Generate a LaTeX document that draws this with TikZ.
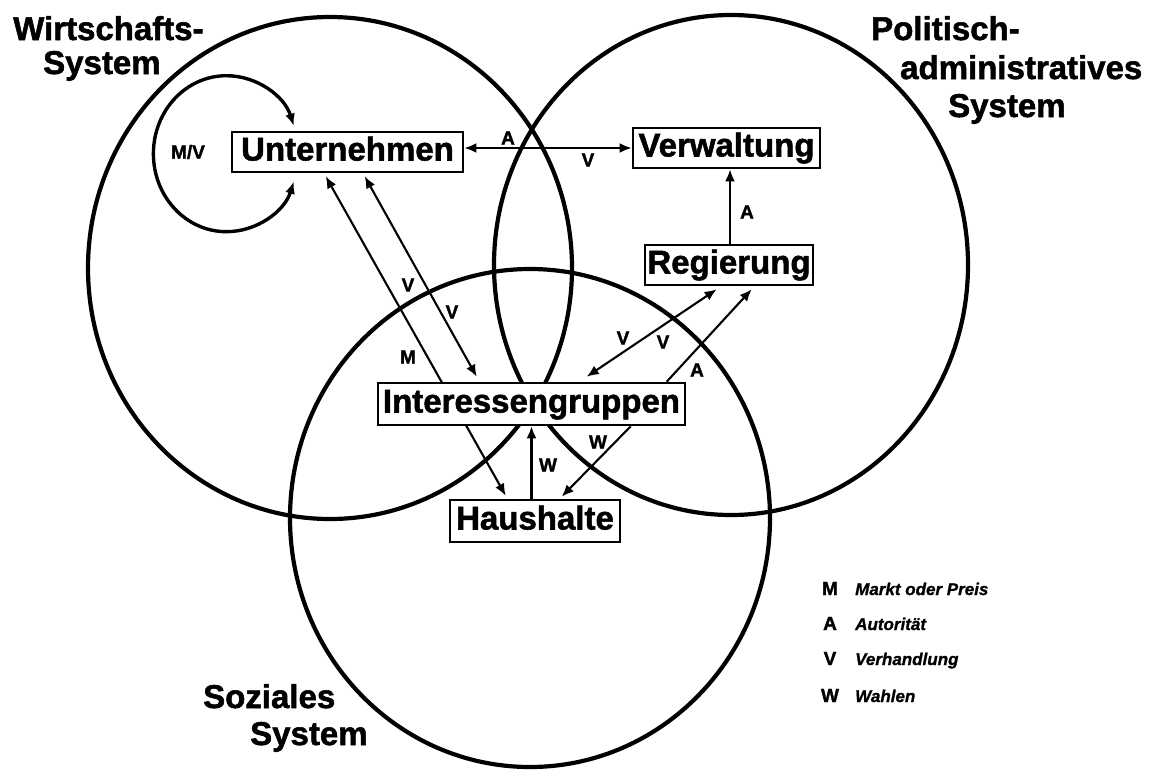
\documentclass[tikz,border=0pt]{standalone}
\usepackage{fontspec}
\setmainfont{Liberation Sans}[BoldFeatures={FakeBold=1.6},BoldItalicFeatures={FakeBold=1}]
\usetikzlibrary{arrows.meta,calc,backgrounds}
\newcommand\bigfnt{\fontsize{33}{36}\selectfont\bfseries}
\newcommand\lblfnt{\fontsize{19}{21}\selectfont\bfseries}
\newcommand\legfnt{\fontsize{17}{19}\selectfont\bfseries\itshape}
\begin{document}
\begin{tikzpicture}[x=1pt,y=-1pt,
  >={Latex[length=12pt,width=10pt]},
  sysbox/.style={draw,line width=2.6pt,fill=white,inner sep=0pt,font=\bigfnt,
                 text height=24pt,text depth=7pt,minimum height=40pt},
  ttl/.style={font=\bigfnt,anchor=base west,inner sep=0pt},
  lbl/.style={font=\lblfnt,inner sep=0pt},
  legtxt/.style={font=\legfnt,anchor=base west,inner sep=0pt},
  sysring/.style={line width=4.2pt},
  flowline/.style={line width=2.1pt},
  mainline/.style={line width=2.5pt},
  loopline/.style={line width=3.4pt}]
\useasboundingbox (0,0) rectangle (1151,769);

% boxes
\node[sysbox,minimum width=231pt] (un) at (347.5,152) {Unternehmen};
\node[sysbox,minimum width=187pt] (vw) at (726.5,148) {Verwaltung};
\node[sysbox,minimum width=168pt] (rg) at (729,265) {Regierung};
\node[sysbox,minimum width=307pt,minimum height=42pt] (ig) at (531.5,404) {Interessengruppen};
\node[sysbox,minimum width=170pt,minimum height=42pt] (hh) at (535,521) {Haushalte};

% titles
\node[ttl] (t1a) at (13,40) {Wirtschafts-};
\node[ttl] (t1b) at (43,74) {System};
\node[ttl] (t2a) at (871,40) {Politisch-};
\node[ttl] (t2b) at (900,79) {administratives};
\node[ttl] (t2c) at (948,117) {System};
\node[ttl] (t3a) at (203,708) {Soziales};
\node[ttl] (t3b) at (250,745) {System};

% arrow labels
\node[lbl] (lmv) at (188,152) {M/V};
\node[lbl] (la1) at (508,138) {A};
\node[lbl] (lv1) at (588,160) {V};
\node[lbl] (la2) at (747,212) {A};
\node[lbl] (lv2) at (408,285) {V};
\node[lbl] (lv3) at (452,312) {V};
\node[lbl] (lm1) at (408,357) {M};
\node[lbl] (lv4) at (623,338) {V};
\node[lbl] (lv5) at (663,342) {V};
\node[lbl] (la3) at (697,370) {A};
\node[lbl] (lw1) at (548,465) {W};
\node[lbl] (lw2) at (598,442) {W};

% legend
\node[lbl,anchor=base] (km) at (830,595) {M};
\node[legtxt] (tm) at (855,595) {Markt oder Preis};
\node[lbl,anchor=base] (ka) at (830,630) {A};
\node[legtxt] (ta) at (855,630) {Autorität};
\node[lbl,anchor=base] (kv) at (830,665) {V};
\node[legtxt] (tv) at (855,665) {Verhandlung};
\node[lbl,anchor=base] (kw) at (830,702) {W};
\node[legtxt] (tw) at (855,702) {Wahlen};

\begin{scope}[on background layer]
  \fill[white] (0,0) rectangle (1151,769);
  % system circles
  \draw[sysring] (330,268) ellipse [x radius=242pt, y radius=251pt];
  \draw[sysring] (731,265) ellipse [x radius=237pt, y radius=250pt];
  \draw[sysring] (530,518) ellipse [x radius=240pt, y radius=249pt];

  % self loop of Unternehmen
  \coordinate (lt) at ($(un.north west)+(63,-5)$);
  \coordinate (lb) at ($(un.south west)+(63,8.4)$);
  \draw[loopline,<->] (lt) .. controls (284.5,96.2) and (257.1,75.7) .. (226.4,75.7)
     .. controls (186.1,75.7) and (153.4,110.6) .. (153.4,153.7)
     .. controls (153.4,196.8) and (186.1,231.7) .. (226.4,231.7)
     .. controls (257.1,231.7) and (284.5,211.2) .. (lb);

  % Unternehmen <-> Verwaltung
  \draw[mainline,<->] (un.east |- vw.west) -- (vw.west);
  % Regierung -> Verwaltung
  \draw[mainline,->] (rg.north -| 730,0) -- (vw.south -| 730,0);

  % Unternehmen <-> Haushalte (M), behind Interessengruppen
  \draw[flowline,<->] ($(un.south west)+(95,3)$) -- ($(hh.north west)+(57,-3)$);
  % Unternehmen <-> Interessengruppen (V)
  \draw[flowline,<->] ($(un.south west)+(134,3)$) -- ($(ig.north west)+(100,-5)$);
  % Interessengruppen <-> Regierung (V)
  \draw[flowline,<->] ($(ig.north west)+(210,-5)$) -- ($(rg.south west)+(73,3)$);
  % Interessengruppen -> Regierung (A)
  \draw[flowline,->] ($(ig.north west)+(290,0)$) -- ($(rg.south west)+(108,3)$);
  % Haushalte -> Interessengruppen (W)
  \draw[flowline,->] (ig.south |- hh.north) -- (ig.south);
  % Interessengruppen -> Haushalte (W)
  \draw[flowline,->] ($(ig.south west)+(254,0)$) -- ($(hh.north west)+(113,-2)$);
\end{scope}
\end{tikzpicture}
\end{document}
